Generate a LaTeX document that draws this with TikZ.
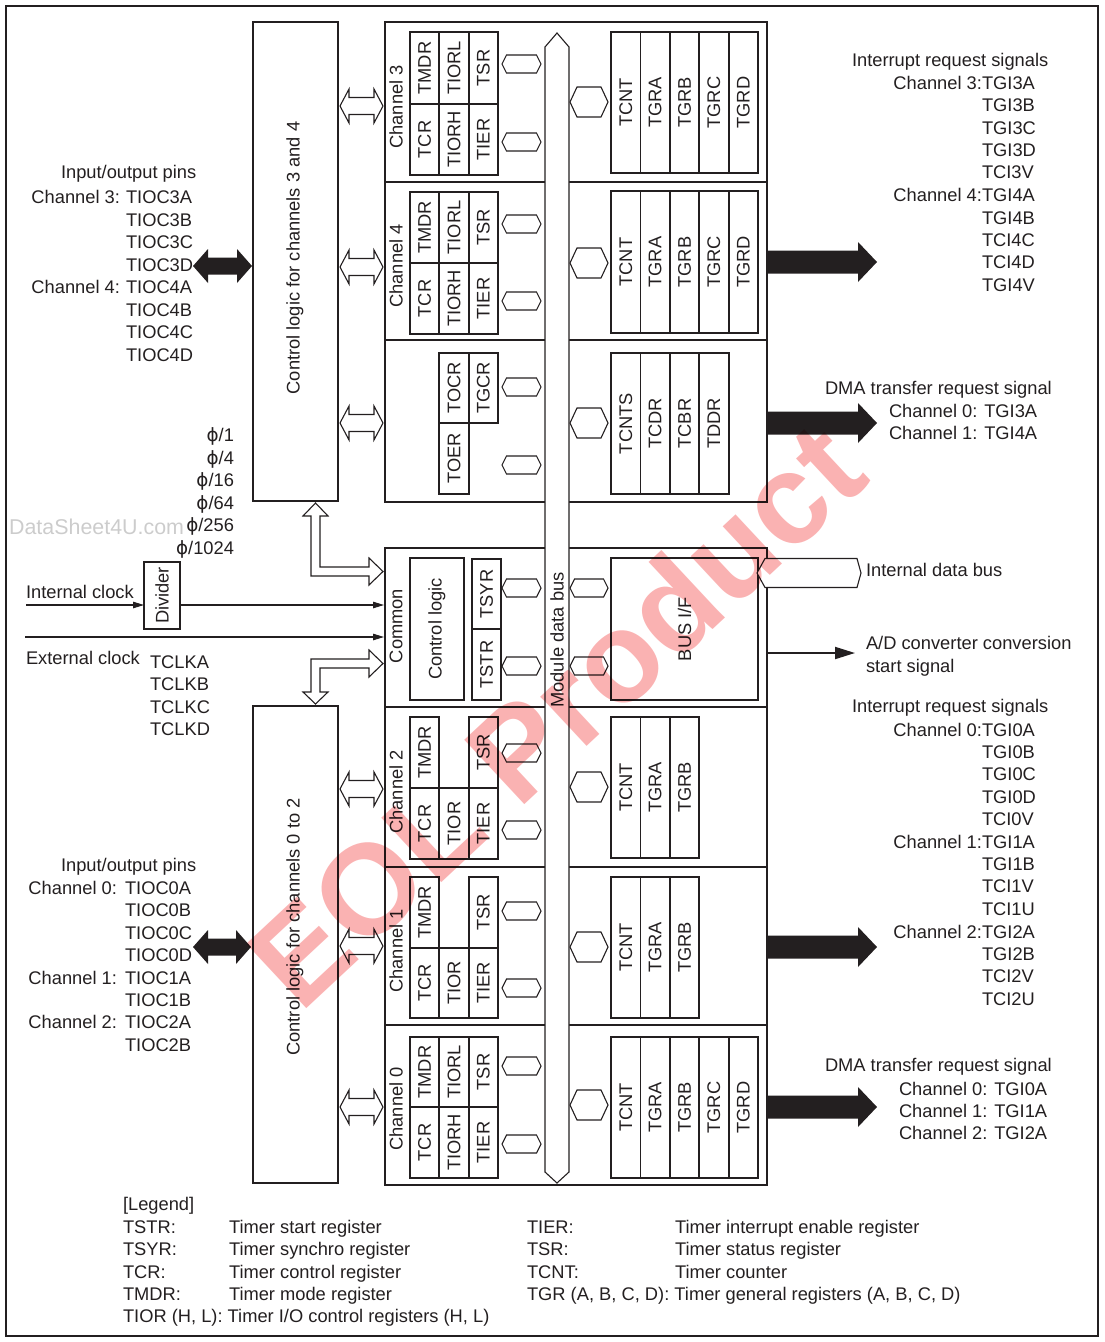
\documentclass[tikz,border=0pt]{standalone}
\usepackage{fontspec}
\setmainfont{Liberation Sans}
\newfontfamily\dejavu{DejaVu Sans}
\usepackage{graphicx}
\usetikzlibrary{arrows.meta}
\definecolor{ink}{RGB}{35,31,32}
\definecolor{wm}{RGB}{250,178,178}
\newcommand\rt[1]{\rotatebox{90}{#1}}
% small hexagon: x-left, y-center
\newcommand\hxs[2]{\draw[thinl] (#1,#2) -- ++(4.5,-9) -- ++(30,0) -- ++(4.5,9) -- ++(-4.5,9) -- ++(-30,0) -- cycle;}
\newcommand\hxc[2]{\draw[thinl] (#1,#2) -- ++(4.5,-9) -- ++(29,0) -- ++(4.5,9) -- ++(-4.5,9) -- ++(-29,0) -- cycle;}
% big hexagon
\newcommand\hxb[2]{\draw[thinl] (#1,#2) -- ++(7,-15) -- ++(24,0) -- ++(7,15) -- ++(-7,15) -- ++(-24,0) -- cycle;}
% hollow double arrow x1 x2 y
\newcommand\hda[3]{\draw[thinl, fill=white] (#1,#3) -- ++(9,-17) -- ++(0,8.5) -- ({#2-9},{#3-8.5}) -- ++(0,-8.5) -- (#2,#3) -- ++(-9,17) -- ++(0,-8.5) -- ({#1+9},{#3+8.5}) -- ++(0,8.5) -- cycle;}
% black double arrow
\newcommand\bda[3]{\fill[ink] (#1,#3) -- ++(15,-17) -- ++(0,8.5) -- ({#2-15},{#3-8.5}) -- ++(0,-8.5) -- (#2,#3) -- ++(-15,17) -- ++(0,-8.5) -- ({#1+15},{#3+8.5}) -- ++(0,8.5) -- cycle;}
% black right arrow
\newcommand\bra[1]{\fill[ink] (768,{#1-11.5}) -- (858,{#1-11.5}) -- (858,{#1-20}) -- (877,#1) -- (858,{#1+20}) -- (858,{#1+11.5}) -- (768,{#1+11.5}) -- cycle;}
% register cells of left grid: prefix, y1, y2, list col/label
\newcommand\lcells[4]{\foreach \c/\lab in {#4} {\node[cell, minimum width=29.33, minimum height={#3-#2}] (#1\c) at ({395.33+29.33*\c},{(#2+#3)/2}) {\rt{\lab}};}}
% right bank
\newcommand\rbank[4]{\foreach \lab [count=\c] in {#4} {\node[cell, minimum width=29.4, minimum height={#3-#2}] (#1\c) at ({596.3+29.4*\c},{(#2+#3)/2}) {\rt{\lab}};}}
\begin{document}
\begin{tikzpicture}[x=1pt,y=-1pt,
  every node/.style={inner sep=0pt, outer sep=0pt, text=ink},
  font=\fontsize{18.3}{22}\selectfont,
  blk/.style={draw=ink, line width=2},
  cell/.style={draw=ink, line width=1.8},
  thinl/.style={draw=ink, line width=1.1},
  arr/.style={draw=ink, line width=1.1, -{Triangle[length=11,width=6.5]}},
  lt/.style={anchor=base west},
  rtx/.style={anchor=base east},
  vlab/.style={rotate=90, anchor=center}]
\useasboundingbox (0,0) rectangle (1104,1342);
\draw[line width=2, draw=ink] (6,6) rectangle (1098,1336);

% control logic boxes
\node[blk, minimum width=85, minimum height=479] (ctl34) at (295.5,261.5) {};
\node[vlab] (ctl34l) at (295,258) {Control logic for channels 3 and 4};
\node[blk, minimum width=85, minimum height=477] (ctl02) at (295.5,944.5) {};
\node[vlab] (ctl02l) at (295,927) {Control logic for channels 0 to 2};

% channel blocks
\node[blk, minimum width=382, minimum height=160] (ch3) at (576,102) {};
\node[blk, minimum width=382, minimum height=158] (ch4) at (576,261) {};
\node[blk, minimum width=382, minimum height=162] (chx) at (576,421) {};
\node[blk, minimum width=382, minimum height=159] (com) at (576,627.5) {};
\node[blk, minimum width=382, minimum height=160] (ch2) at (576,787) {};
\node[blk, minimum width=382, minimum height=158] (ch1) at (576,946) {};
\node[blk, minimum width=382, minimum height=160] (ch0) at (576,1105) {};

% channel labels
\node[vlab] (l3) at (396,107) {Channel 3};
\node[vlab] (l4) at (396,266) {Channel 4};
\node[vlab] (lc) at (396,626) {Common};
\node[vlab] (l2) at (396,792) {Channel 2};
\node[vlab] (l1) at (396,951) {Channel 1};
\node[vlab] (l0) at (396,1109) {Channel 0};

% left register grids
\lcells{c3t}{32}{104}{1/TMDR,2/TIORL,3/TSR}
\lcells{c3b}{104}{175}{1/TCR,2/TIORH,3/TIER}
\lcells{c4t}{192}{263}{1/TMDR,2/TIORL,3/TSR}
\lcells{c4b}{263}{334}{1/TCR,2/TIORH,3/TIER}
\lcells{cxt}{353}{423}{2/TOCR,3/TGCR}
\lcells{cxb}{423}{494}{2/TOER}
\lcells{c2t}{717}{788}{1/TMDR,3/TSR}
\lcells{c2b}{788}{859}{1/TCR,2/TIOR,3/TIER}
\lcells{c1t}{877}{948}{1/TMDR,3/TSR}
\lcells{c1b}{948}{1018}{1/TCR,2/TIOR,3/TIER}
\lcells{c0t}{1037}{1107}{1/TMDR,2/TIORL,3/TSR}
\lcells{c0b}{1107}{1178}{1/TCR,2/TIORH,3/TIER}

% right banks
\rbank{r3}{32}{173}{TCNT,TGRA,TGRB,TGRC,TGRD}
\rbank{r4}{191}{333}{TCNT,TGRA,TGRB,TGRC,TGRD}
\rbank{rx}{353}{494}{TCNTS,TCDR,TCBR,TDDR}
\rbank{r2}{717}{858}{TCNT,TGRA,TGRB}
\rbank{r1}{877}{1018}{TCNT,TGRA,TGRB}
\rbank{r0}{1037}{1178}{TCNT,TGRA,TGRB,TGRC,TGRD}

% common block contents
\node[cell, minimum width=54, minimum height=142] (ctlc) at (437,629) {\rt{Control logic}};
\node[cell, minimum width=29, minimum height=70] (tsyr) at (486.5,594) {\rt{TSYR}};
\node[cell, minimum width=29, minimum height=71] (tstr) at (486.5,664.5) {\rt{TSTR}};
\node[cell, minimum width=147, minimum height=142] (busif) at (684.5,629) {\rt{BUS I/F}};

% module data bus
\draw[thinl, fill=white] (545,47) -- (557,33) -- (569,47) -- (569,1172) -- (557,1183) -- (545,1172) -- cycle;
\node[vlab] (mdb) at (557,640) {Module data bus};

% small hexagons (left of bus)
\foreach \yy in {64,142,224,301,387,465,588,666,753,830,911,988,1066,1144} {\hxs{502}{\yy}}
% right hexagons
\foreach \yy in {102,263,423,787,947,1105} {\hxb{570}{\yy}}
\hxc{570}{588}
\hxc{570}{666}

% hollow double arrows control logic <-> channels
\foreach \yy in {106,267,423,789,946,1107} {\hda{340}{383}{\yy}}

% hollow L arrows
\draw[thinl, fill=white] (315.5,503) -- (328,516) -- (320,516) -- (320,567) -- (369,567) -- (369,558) -- (383,571.5) -- (369,585) -- (369,576) -- (311,576) -- (311,516) -- (303,516) -- cycle;
\draw[thinl, fill=white] (383,663.5) -- (369,677) -- (369,668) -- (320,668) -- (320,692) -- (328,692) -- (315.5,704) -- (303,692) -- (311,692) -- (311,659) -- (369,659) -- (369,650) -- cycle;

% divider and clocks
\node[blk, minimum width=36, minimum height=67] (div) at (162,595.5) {\rt{Divider}};
\coordinate (icin) at (26,605);
\coordinate (ecin) at (25,637);
\draw[arr] (icin) -- (icin -| div.west);
\draw[arr] (icin -| div.east) -- ([xshift=-1]icin -| com.west);
\draw[arr] (ecin) -- ([xshift=-1]ecin -| com.west);
\node[lt] (icl) at (26,598.5) {Internal clock};
\node[lt] (ecl) at (26,664.5) {External clock};
\foreach \n/\y/\t in {a/662/TCLKA,b/684/TCLKB,c/707/TCLKC,d/729/TCLKD}
  {\node[lt] (tclk\n) at (150,\y+6.5) {\t};}
\foreach \n/\y/\t in {a/435/1,b/458/4,c/480/16,d/503/64,e/525/256,f/548/1024}
  {\node[rtx] (phi\n) at (234,\y+6.5) {{\dejavu ϕ}/\t};}
\node[rtx, text=black!20, font=\fontsize{21.4}{24}\selectfont] (ds) at (184,534) {DataSheet4U.com};

% left pin texts
\node[lt] (iop1) at (61,178.5) {Input/output pins};
\node[rtx] (pc3) at (120,203.5) {Channel 3:};
\node[rtx] (pc4) at (120,293.5) {Channel 4:};
\foreach \n/\y/\t in {a/197/TIOC3A,b/220/TIOC3B,c/242/TIOC3C,d/265/TIOC3D,e/287/TIOC4A,f/310/TIOC4B,g/332/TIOC4C,h/355/TIOC4D}
  {\node[lt] (pt\n) at (126,\y+6.5) {\t};}
\bda{193}{252}{266}
\node[lt] (iop2) at (61,871.5) {Input/output pins};
\node[rtx] (pc0) at (117,894.5) {Channel 0:};
\node[rtx] (pc1) at (117,984.5) {Channel 1:};
\node[rtx] (pc2) at (117,1028.5) {Channel 2:};
\foreach \n/\y/\t in {a/888/TIOC0A,b/910/TIOC0B,c/933/TIOC0C,d/955/TIOC0D,e/978/TIOC1A,f/1000/TIOC1B,g/1022/TIOC2A,h/1045/TIOC2B}
  {\node[lt] (pb\n) at (125,\y+6.5) {\t};}
\bda{193}{251}{947}

% right side
\bra{262}
\bra{423}
\bra{947}
\bra{1107}
\node[lt] (irq1) at (852,66.5) {Interrupt request signals};
\node[rtx] (ic3) at (982,89.5) {Channel 3:};
\node[rtx] (ic4) at (982,201.5) {Channel 4:};
\foreach \n/\y/\t in {a/83/TGI3A,b/105/TGI3B,c/128/TGI3C,d/150/TGI3D,e/172/TCI3V,f/195/TGI4A,g/218/TGI4B,h/240/TCI4C,i/262/TCI4D,j/285/TGI4V}
  {\node[lt] (it\n) at (982,\y+6.5) {\t};}
\node[lt] (dma1) at (825,394.5) {DMA transfer request signal};
\node[lt] (dma1a) at (889,417.5) {Channel 0: TGI3A};
\node[lt] (dma1b) at (889,439.5) {Channel 1: TGI4A};

\node[lt] (irq2) at (852,712.5) {Interrupt request signals};
\node[rtx] (ic0) at (982,736.5) {Channel 0:};
\node[rtx] (ic1) at (982,848.5) {Channel 1:};
\node[rtx] (ic2) at (982,938.5) {Channel 2:};
\foreach \n/\y/\t in {a/730/TGI0A,b/752/TGI0B,c/774/TGI0C,d/797/TGI0D,e/819/TCI0V,f/842/TGI1A,g/864/TGI1B,h/886/TCI1V,i/909/TCI1U,j/932/TGI2A,k/954/TGI2B,l/976/TCI2V,m/999/TCI2U}
  {\node[lt] (ib\n) at (982,\y+6.5) {\t};}
\node[lt] (dma2) at (825,1071.5) {DMA transfer request signal};
\node[lt] (dma2a) at (899,1095.5) {Channel 0: TGI0A};
\node[lt] (dma2b) at (899,1117.5) {Channel 1: TGI1A};
\node[lt] (dma2c) at (899,1139.5) {Channel 2: TGI2A};

% internal data bus and A/D
\draw[thinl, fill=white] (757,573) -- (765,558.5) -- (857,558.5) -- (861,573) -- (857,587.5) -- (765,587.5) -- cycle;
\node[lt] (idb) at (866,576.5) {Internal data bus};
\coordinate (adend) at (855,653);
\draw[draw=ink, line width=2, -{Triangle[length=20,width=12]}] (adend -| com.east) -- (adend);
\node[lt] (ad1) at (866,649.5) {A/D converter conversion};
\node[lt] (ad2) at (866,672.5) {start signal};

% legend
\node[lt] (lg) at (123,1210.5) {[Legend]};
\foreach \n/\y/\a/\b in {a/1227/TSTR:/Timer start register,b/1249/TSYR:/Timer synchro register,c/1272/TCR:/Timer control register,d/1294/TMDR:/Timer mode register}{
  \node[lt] (lga\n) at (123,\y+6.5) {\a};
  \node[lt] (lgb\n) at (229,\y+6.5) {\b};}
\node[lt] (lge) at (123,1322.5) {TIOR (H, L): Timer I/O control registers (H, L)};
\foreach \n/\y/\a/\b in {a/1227/TIER:/Timer interrupt enable register,b/1249/TSR:/Timer status register,c/1272/TCNT:/Timer counter}{
  \node[lt] (lgc\n) at (527,\y+6.5) {\a};
  \node[lt] (lgd\n) at (675,\y+6.5) {\b};}
\node[lt] (lgf) at (527,1300.5) {TGR (A, B, C, D): Timer general registers (A, B, C, D)};

% watermark
\begin{scope}[blend mode=multiply]
\node[rotate=43, text=wm, font=\bfseries\fontsize{128}{128}\selectfont] (wmark) at (555,714) {EOL Product};
\end{scope}
\end{tikzpicture}
\end{document}
